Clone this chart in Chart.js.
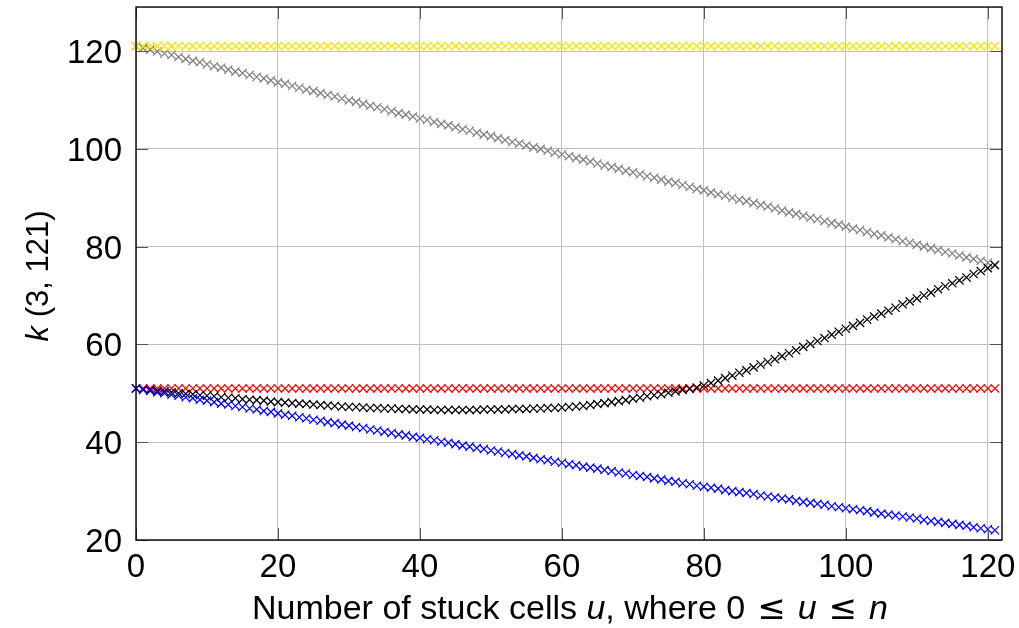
<!DOCTYPE html>
<html>
<head>
<meta charset="utf-8">
<script src="https://cdn.jsdelivr.net/npm/chart.js@4.4.1/dist/chart.umd.min.js"></script>
<style>
html,body{margin:0;padding:0;background:#fff;}
canvas{display:block;}
</style>
</head>
<body>
<canvas id="c" width="1019" height="628"></canvas>
<script>
const u = [0,1,2,3,4,5,6,7,8,9,10,11,12,13,14,15,16,17,18,19,20,21,22,23,24,25,26,27,28,29,30,31,32,33,34,35,36,37,38,39,40,41,42,43,44,45,46,47,48,49,50,51,52,53,54,55,56,57,58,59,60,61,62,63,64,65,66,67,68,69,70,71,72,73,74,75,76,77,78,79,80,81,82,83,84,85,86,87,88,89,90,91,92,93,94,95,96,97,98,99,100,101,102,103,104,105,106,107,108,109,110,111,112,113,114,115,116,117,118,119,120,121];

const yellowSeries = [121,121,121,121,121,121,121,121,121,121,121,121,121,121,121,121,121,121,121,121,121,121,121,121,121,121,121,121,121,121,121,121,121,121,121,121,121,121,121,121,121,121,121,121,121,121,121,121,121,121,121,121,121,121,121,121,121,121,121,121,121,121,121,121,121,121,121,121,121,121,121,121,121,121,121,121,121,121,121,121,121,121,121,121,121,121,121,121,121,121,121,121,121,121,121,121,121,121,121,121,121,121,121,121,121,121,121,121,121,121,121,121,121,121,121,121,121,121,121,121,121,121];

const redSeries = [51,51,51,51,51,51,51,51,51,51,51,51,51,51,51,51,51,51,51,51,51,51,51,51,51,51,51,51,51,51,51,51,51,51,51,51,51,51,51,51,51,51,51,51,51,51,51,51,51,51,51,51,51,51,51,51,51,51,51,51,51,51,51,51,51,51,51,51,51,51,51,51,51,51,51,51,51,51,51,51,51,51,51,51,51,51,51,51,51,51,51,51,51,51,51,51,51,51,51,51,51,51,51,51,51,51,51,51,51,51,51,51,51,51,51,51,51,51,51,51,51,51];

const graySeries = [
121.0,120.6,120.3,119.9,119.5,119.2,118.8,118.4,118.0,117.7,
117.3,116.9,116.6,116.2,115.8,115.5,115.1,114.7,114.4,114.0,
113.6,113.3,112.9,112.5,112.1,111.8,111.4,111.0,110.7,110.3,
109.9,109.6,109.2,108.8,108.5,108.1,107.7,107.3,107.0,106.6,
106.2,105.9,105.5,105.1,104.8,104.4,104.0,103.7,103.3,102.9,
102.6,102.2,101.8,101.4,101.1,100.7,100.3,100.0,99.6,99.2,
98.9,98.5,98.1,97.8,97.4,97.0,96.6,96.3,95.9,95.5,
95.2,94.8,94.4,94.1,93.7,93.3,93.0,92.6,92.2,91.8,
91.5,91.1,90.7,90.4,90.0,89.6,89.3,88.9,88.5,88.2,
87.8,87.4,87.0,86.7,86.3,85.9,85.6,85.2,84.8,84.5,
84.1,83.7,83.4,83.0,82.6,82.3,81.9,81.5,81.1,80.8,
80.4,80.0,79.7,79.3,78.9,78.6,78.2,77.8,77.5,77.1,
76.7,76.3];

const blueSeries = [
51.0,50.7,50.5,50.2,50.0,49.7,49.5,49.2,49.0,48.7,
48.5,48.2,47.9,47.7,47.4,47.2,46.9,46.7,46.4,46.2,
45.9,45.6,45.4,45.1,44.9,44.6,44.4,44.1,43.9,43.6,
43.4,43.1,42.9,42.6,42.4,42.1,41.9,41.6,41.4,41.1,
40.9,40.6,40.4,40.1,39.9,39.6,39.3,39.1,38.8,38.6,
38.3,38.1,37.8,37.6,37.3,37.1,36.8,36.5,36.3,36.0,
35.8,35.5,35.3,35.0,34.8,34.6,34.3,34.1,33.8,33.6,
33.3,33.1,32.9,32.6,32.4,32.1,31.9,31.6,31.4,31.1,
30.9,30.7,30.5,30.2,30.0,29.8,29.6,29.4,29.1,28.9,
28.7,28.5,28.3,28.0,27.8,27.6,27.4,27.2,26.9,26.7,
26.5,26.3,26.1,25.9,25.6,25.4,25.2,25.0,24.8,24.6,
24.4,24.1,23.9,23.7,23.5,23.3,23.1,22.9,22.6,22.4,
22.2,22.0];

const blackSeries = [
51.0,50.8,50.7,50.5,50.4,50.2,50.0,49.9,49.8,49.6,
49.5,49.4,49.2,49.1,49.0,48.8,48.7,48.6,48.5,48.3,
48.2,48.1,48.0,47.9,47.8,47.7,47.6,47.5,47.4,47.3,
47.2,47.2,47.1,47.0,47.0,46.9,46.9,46.8,46.8,46.7,
46.7,46.7,46.6,46.6,46.6,46.6,46.6,46.6,46.6,46.7,
46.7,46.7,46.7,46.8,46.8,46.8,46.9,46.9,47.0,47.0,
47.1,47.2,47.3,47.4,47.6,47.8,48.0,48.2,48.4,48.6,
48.9,49.1,49.4,49.6,49.8,50.1,50.4,50.7,50.9,51.2,
51.6,52.1,52.6,53.1,53.6,54.2,54.7,55.3,55.9,56.4,
57.0,57.6,58.2,58.8,59.5,60.1,60.7,61.3,62.0,62.6,
63.2,63.8,64.4,65.1,65.7,66.3,66.9,67.5,68.2,68.8,
69.4,70.0,70.6,71.3,71.9,72.5,73.1,73.7,74.4,75.0,
75.6,76.2];

const xTicks = [0, 20, 40, 60, 80, 100, 120];
const yTicks = [20, 40, 60, 80, 100, 120];

const FONT = "'Liberation Sans', Arial, Helvetica, sans-serif";
const MATHFONT = "'DejaVu Sans', sans-serif";

function pts(ys){ return u.map((x,i)=>({x:x, y:ys[i]})); }

function ds(label, ys, color){
  return {
    label: label,
    data: pts(ys),
    showLine: false,
    pointStyle: 'crossRot',
    pointRadius: 5.8,
    pointHoverRadius: 5.8,
    pointBorderWidth: 1.25,
    borderColor: color,
    backgroundColor: color,
    clip: false
  };
}

const framePlugin = {
  id: 'frame',
  afterDraw(chart){
    const ctx = chart.ctx;
    const a = chart.chartArea;
    const xs = chart.scales.x, ys = chart.scales.y;
    ctx.save();
    ctx.strokeStyle = '#555555';
    ctx.lineWidth = 1;
    const tl = 12;
    xTicks.forEach(v=>{
      const p = Math.round(xs.getPixelForValue(v)) + 0.5;
      ctx.beginPath();
      ctx.moveTo(p, a.bottom); ctx.lineTo(p, a.bottom - tl);
      ctx.moveTo(p, a.top); ctx.lineTo(p, a.top + tl);
      ctx.stroke();
    });
    yTicks.forEach(v=>{
      const p = Math.round(ys.getPixelForValue(v)) + 0.5;
      ctx.beginPath();
      ctx.moveTo(a.left, p); ctx.lineTo(a.left + tl, p);
      ctx.moveTo(a.right, p); ctx.lineTo(a.right - tl, p);
      ctx.stroke();
    });
    ctx.strokeStyle = '#000000';
    ctx.lineWidth = 1.4;
    ctx.strokeRect(a.left, a.top, a.right - a.left, a.bottom - a.top);

    // tick labels
    ctx.fillStyle = '#000';
    ctx.font = '33px ' + FONT;
    ctx.textBaseline = 'alphabetic';
    ctx.textAlign = 'center';
    xTicks.forEach(v=>{
      ctx.fillText(String(v), xs.getPixelForValue(v), 577);
    });
    ctx.textAlign = 'right';
    yTicks.forEach(v=>{
      ctx.fillText(String(v), 122, ys.getPixelForValue(v) + 12);
    });

    // axis titles with mixed italic
    ctx.textAlign = 'left';
    function fontOf(r, size){
      if (r.math) return size + 'px ' + MATHFONT;
      return (r.it ? 'italic ' : '') + size + 'px ' + FONT;
    }
    function drawRuns(runs, cx, baseline, size){
      let total = 0;
      runs.forEach(r=>{
        if (r.gap) { total += r.gap; return; }
        ctx.font = fontOf(r, size); total += ctx.measureText(r.t).width;
      });
      let x = cx - total/2;
      runs.forEach(r=>{
        if (r.gap) { x += r.gap; return; }
        ctx.font = fontOf(r, size);
        ctx.fillText(r.t, x, baseline);
        x += ctx.measureText(r.t).width;
      });
    }

    drawRuns([
      {t:'Number of stuck cells '},
      {t:'u', it:true},
      {t:', where 0'},
      {gap:12},
      {t:'\u2264', math:true},
      {gap:12},
      {t:'u', it:true},
      {gap:12},
      {t:'\u2264', math:true},
      {gap:12},
      {t:'n', it:true}
    ], (a.left + a.right)/2 + 1, 619, 34);

    ctx.save();
    ctx.translate(48, 276);
    ctx.rotate(-Math.PI/2);
    drawRuns([
      {t:'k', it:true},
      {t:' (3, 121)'}
    ], 0, 0, 31);
    ctx.restore();
    ctx.restore();
  }
};

new Chart(document.getElementById('c'), {
  type: 'scatter',
  data: {
    datasets: [
      ds('blue', blueSeries, '#0000ff'),
      ds('black', blackSeries, '#000000'),
      ds('red', redSeries, '#ff0000'),
      ds('yellow', yellowSeries, '#f5e800'),
      ds('gray', graySeries, '#7f7f7f')
    ]
  },
  options: {
    responsive: false,
    animation: false,
    devicePixelRatio: 1,
    layout: { padding: { left: 0, right: 17, top: 7, bottom: 0 } },
    plugins: { legend: { display: false }, tooltip: { enabled: false } },
    scales: {
      x: {
        type: 'linear',
        min: 0, max: 122,
        afterFit(s){ s.height = 88; s.paddingLeft = 0; s.paddingRight = 0; s.paddingTop = 0; s.paddingBottom = 0; },
        afterBuildTicks(s){ s.ticks = xTicks.map(v=>({value:v})); },
        ticks: { display: false },
        grid: { color: '#c0c0c0', lineWidth: 1, drawTicks: false },
        border: { display: false }
      },
      y: {
        type: 'linear',
        min: 20, max: 129,
        afterFit(s){ s.width = 136; s.paddingLeft = 0; s.paddingRight = 0; s.paddingTop = 0; s.paddingBottom = 0; },
        afterBuildTicks(s){ s.ticks = yTicks.map(v=>({value:v})); },
        ticks: { display: false },
        grid: { color: '#c0c0c0', lineWidth: 1, drawTicks: false },
        border: { display: false }
      }
    }
  },
  plugins: [framePlugin]
});
</script>
</body>
</html>
